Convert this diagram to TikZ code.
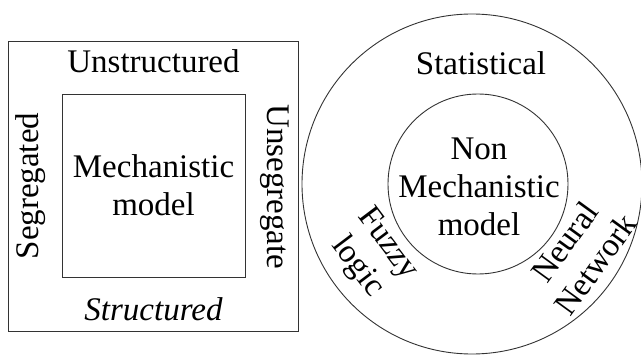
\documentclass[tikz,border=0pt]{standalone}
\usepackage{fontspec}
\setmainfont{Liberation Serif}
\usetikzlibrary{positioning}

\begin{document}
\begin{tikzpicture}[x=1pt, y=1pt, line width=0.9pt, font=\fontsize{33}{38}\selectfont]
    \useasboundingbox (0,0) rectangle (641,357);
    % mechanistic side
    \node[draw=black!80, minimum size=290pt, inner sep=0pt] (outsq) at (153,171) {};
    \node[draw=black!80, minimum size=183pt, inner sep=0pt, align=center] (insq) at (153.5,171.5) {Mechanistic\\model};
    \node[inner sep=0pt, above=20pt of insq] (unstr) {Unstructured};
    \node[inner sep=0pt, below=20pt of insq] (str) {\itshape Structured};
    \node[inner sep=0pt, rotate=90] (seg) at (31,171) {Segregated};
    \node[inner sep=0pt, rotate=-90] (unseg) at (275,170) {Unsegregate};
    % non mechanistic side
    \node[draw=black!80, circle, minimum size=340pt, inner sep=0pt] (outc) at (472,173) {};
    \node[draw=black!80, circle, minimum size=180pt, inner sep=0pt] (inc) at (478,173) {};
    \node[inner sep=0pt, align=center] (nonmech) at (479,170) {Non\\Mechanistic\\model};
    \node[inner sep=0pt, anchor=base] (stat) at (481,282) {Statistical};
    \node[inner sep=0pt, align=center, rotate=-53] (fuzzy) at (372,101) {Fuzzy\\logic};
    \node[inner sep=0pt, align=center, rotate=54] (neural) at (580,104) {Neural\\Network};
\end{tikzpicture}
\end{document}
